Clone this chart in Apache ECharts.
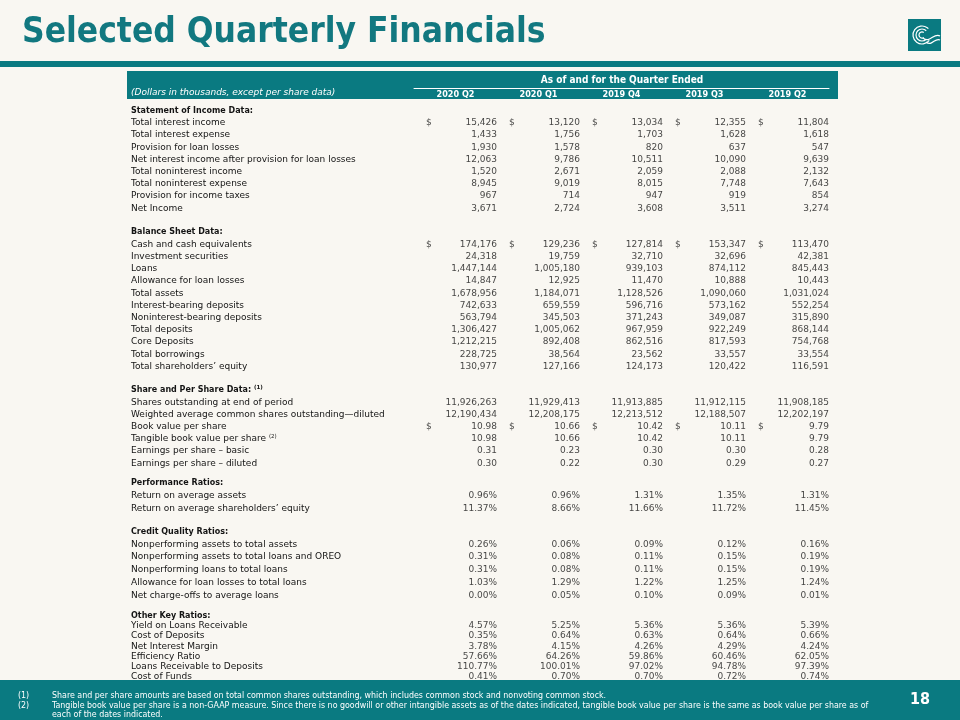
<!DOCTYPE html>
<html>
<head>
<meta charset="utf-8">
<title>Selected Quarterly Financials</title>
<script src="https://cdn.jsdelivr.net/npm/echarts@6/dist/echarts.min.js"></script>
<style>
  html, body { margin: 0; padding: 0; background: #f9f7f2; }
  #chart { width: 960px; height: 720px; }
</style>
</head>
<body>
<div id="chart"></div>
<script>
// column headers
const quarters = ['2020 Q2', '2020 Q1', '2019 Q4', '2019 Q3', '2019 Q2'];

// Statement of Income Data (dollars in thousands)
const incomeLabels = [
  'Total interest income',
  'Total interest expense',
  'Provision for loan losses',
  'Net interest income after provision for loan losses',
  'Total noninterest income',
  'Total noninterest expense',
  'Provision for income taxes',
  'Net Income'
];
const incomeValues = [
  [15426, 13120, 13034, 12355, 11804],
  [1433, 1756, 1703, 1628, 1618],
  [1930, 1578, 820, 637, 547],
  [12063, 9786, 10511, 10090, 9639],
  [1520, 2671, 2059, 2088, 2132],
  [8945, 9019, 8015, 7748, 7643],
  [967, 714, 947, 919, 854],
  [3671, 2724, 3608, 3511, 3274]
];

// Balance Sheet Data (dollars in thousands)
const balanceLabels = [
  'Cash and cash equivalents',
  'Investment securities',
  'Loans',
  'Allowance for loan losses',
  'Total assets',
  'Interest-bearing deposits',
  'Noninterest-bearing deposits',
  'Total deposits',
  'Core Deposits',
  'Total borrowings',
  'Total shareholders\u2019 equity'
];
const balanceValues = [
  [174176, 129236, 127814, 153347, 113470],
  [24318, 19759, 32710, 32696, 42381],
  [1447144, 1005180, 939103, 874112, 845443],
  [14847, 12925, 11470, 10888, 10443],
  [1678956, 1184071, 1128526, 1090060, 1031024],
  [742633, 659559, 596716, 573162, 552254],
  [563794, 345503, 371243, 349087, 315890],
  [1306427, 1005062, 967959, 922249, 868144],
  [1212215, 892408, 862516, 817593, 754768],
  [228725, 38564, 23562, 33557, 33554],
  [130977, 127166, 124173, 120422, 116591]
];

// Share and Per Share Data
const shareLabels = [
  'Shares outstanding at end of period',
  'Weighted average common shares outstanding\u2014diluted',
  'Book value per share',
  'Tangible book value per share',
  'Earnings per share \u2013 basic',
  'Earnings per share \u2013 diluted'
];
const shareValues = [
  [11926263, 11929413, 11913885, 11912115, 11908185],
  [12190434, 12208175, 12213512, 12188507, 12202197],
  [10.98, 10.66, 10.42, 10.11, 9.79],
  [10.98, 10.66, 10.42, 10.11, 9.79],
  [0.31, 0.23, 0.30, 0.30, 0.28],
  [0.30, 0.22, 0.30, 0.29, 0.27]
];

// Performance Ratios (%)
const perfLabels = ['Return on average assets', 'Return on average shareholders\u2019 equity'];
const perfValues = [
  [0.96, 0.96, 1.31, 1.35, 1.31],
  [11.37, 8.66, 11.66, 11.72, 11.45]
];

// Credit Quality Ratios (%)
const creditLabels = [
  'Nonperforming assets to total assets',
  'Nonperforming assets to total loans and OREO',
  'Nonperforming loans to total loans',
  'Allowance for loan losses to total loans',
  'Net charge-offs to average loans'
];
const creditValues = [
  [0.26, 0.06, 0.09, 0.12, 0.16],
  [0.31, 0.08, 0.11, 0.15, 0.19],
  [0.31, 0.08, 0.11, 0.15, 0.19],
  [1.03, 1.29, 1.22, 1.25, 1.24],
  [0.00, 0.05, 0.10, 0.09, 0.01]
];

// Other Key Ratios (%)
const otherLabels = [
  'Yield on Loans Receivable',
  'Cost of Deposits',
  'Net Interest Margin',
  'Efficiency Ratio',
  'Loans Receivable to Deposits',
  'Cost of Funds'
];
const otherValues = [
  [4.57, 5.25, 5.36, 5.36, 5.39],
  [0.35, 0.64, 0.63, 0.64, 0.66],
  [3.78, 4.15, 4.26, 4.29, 4.24],
  [57.66, 64.26, 59.86, 60.46, 62.05],
  [110.77, 100.01, 97.02, 94.78, 97.39],
  [0.41, 0.70, 0.70, 0.72, 0.74]
];

// rows that get a "$" in front of the numbers
const dollarRows = ['Total interest income', 'Cash and cash equivalents', 'Book value per share'];
// footnote markers
const labelNotes = { 'Share and Per Share Data:': '(1)', 'Tangible book value per share': '(2)' };

const footnotes = [
  ['(1)', 'Share and per share amounts are based on total common shares outstanding, which includes common stock and nonvoting common stock.'],
  ['(2)', 'Tangible book value per share is a non-GAAP measure. Since there is no goodwill or other intangible assets as of the dates indicated, tangible book value per share is the same as book value per share as of'],
  ['', 'each of the dates indicated.']
];

// number formats
const fmtInt = (v) => v.toLocaleString('en-US');
const fmtDec = (v) => v.toFixed(2);
const fmtPct = (v) => v.toFixed(2) + '%';

const TEAL = '#0a7a81';
const TEXT = '#141414';
const COL_LEFT = 414;
const COL_W = 83;
const LABEL_X = 131;

// sections: where the heading row sits and the row pitch
const sections = [
  { title: 'Statement of Income Data:', labels: incomeLabels, values: incomeValues, fmt: () => fmtInt, y0: 110.7, step: 12.2 },
  { title: 'Balance Sheet Data:', labels: balanceLabels, values: balanceValues, fmt: () => fmtInt, y0: 232.3, step: 12.2 },
  { title: 'Share and Per Share Data:', labels: shareLabels, values: shareValues, fmt: (r) => (r < 2 ? fmtInt : fmtDec), y0: 390, step: 12.2 },
  { title: 'Performance Ratios:', labels: perfLabels, values: perfValues, fmt: () => fmtPct, y0: 483.3, step: 12.5 },
  { title: 'Credit Quality Ratios:', labels: creditLabels, values: creditValues, fmt: () => fmtPct, y0: 531.7, step: 12.7 },
  { title: 'Other Key Ratios:', labels: otherLabels, values: otherValues, fmt: () => fmtPct, y0: 615.7, step: 10.2 }
];

// grid 0: column headings inside the teal header band
const grids = [{ left: COL_LEFT, top: 80, width: COL_W * 5, height: 8 }];
const xAxes = [{
  gridIndex: 0,
  type: 'category',
  data: quarters,
  axisLine: { lineStyle: { color: '#ffffff', width: 1 } },
  axisTick: { show: false },
  axisLabel: { color: '#ffffff', fontWeight: 'bold', fontSize: 9, fontFamily: 'DejaVu Sans Condensed', margin: 2 }
}];
const yAxes = [{ gridIndex: 0, type: 'category', data: [''], show: false }];
const series = [];

sections.forEach((s, k) => {
  const gi = k + 1;
  const n = s.labels.length + 1;
  grids.push({ left: COL_LEFT, width: COL_W * 5, top: s.y0 - s.step / 2, height: n * s.step });
  xAxes.push({ gridIndex: gi, type: 'category', data: quarters, show: false });
  yAxes.push({
    gridIndex: gi,
    type: 'category',
    inverse: true,
    data: [{ value: s.title, textStyle: { fontWeight: 'bold', fontSize: 8, align: 'left' } }].concat(s.labels),
    axisLine: { show: false },
    axisTick: { show: false },
    splitLine: { show: false },
    axisLabel: {
      interval: 0,
      align: 'left',
      margin: COL_LEFT - LABEL_X,
      color: TEXT,
      fontSize: 9,
      fontFamily: 'DejaVu Sans',
      formatter: (v) => (labelNotes[v] ? v + ' {sup|' + labelNotes[v] + '}' : v),
      rich: {
        sup: { fontSize: 5.5, fontFamily: 'DejaVu Sans', color: TEXT, padding: [0, 0, 5, 0] }
      }
    }
  });

  const pts = [];
  const dollars = [];
  s.values.forEach((row, r) => {
    row.forEach((v, c) => {
      pts.push([c, r + 1, v]);
      if (dollarRows.includes(s.labels[r])) dollars.push([c, r + 1]);
    });
  });

  series.push({
    type: 'scatter',
    xAxisIndex: gi,
    yAxisIndex: gi,
    data: pts,
    symbolSize: 1,
    silent: true,
    itemStyle: { color: 'rgba(0,0,0,0)' },
    label: {
      show: true,
      position: 'inside',
      align: 'right',
      offset: [COL_W / 2, 0],
      color: TEXT,
      fontSize: 9,
      fontFamily: 'DejaVu Sans',
      formatter: (p) => s.fmt(p.value[1] - 1)(p.value[2])
    }
  });
  if (dollars.length) {
    series.push({
      type: 'scatter',
      xAxisIndex: gi,
      yAxisIndex: gi,
      data: dollars,
      symbolSize: 1,
      silent: true,
      itemStyle: { color: 'rgba(0,0,0,0)' },
      label: {
        show: true,
        position: 'inside',
        align: 'left',
        offset: [-COL_W / 2 + 12, 0],
        color: TEXT,
        fontSize: 9,
        fontFamily: 'DejaVu Sans',
        formatter: '$'
      }
    });
  }
});

// decoration: title, bars, logo, header band, footer
const graphic = [
  { type: 'text', x: 22, y: 33, style: { text: 'Selected Quarterly Financials', fill: '#127880', font: 'bold 35px "DejaVu Sans Condensed"', align: 'left', verticalAlign: 'middle' } },
  { type: 'rect', shape: { x: 0, y: 61, width: 960, height: 6 }, style: { fill: TEAL } },
  // logo
  { type: 'rect', shape: { x: 908, y: 19, width: 33, height: 32 }, style: { fill: TEAL } },
  { type: 'arc', shape: { cx: 922, cy: 35, r: 9, startAngle: Math.PI * 0.2, endAngle: Math.PI * 1.75 }, style: { stroke: '#fff', lineWidth: 1.2, fill: null } },
  { type: 'arc', shape: { cx: 922, cy: 35, r: 6, startAngle: Math.PI * 0.25, endAngle: Math.PI * 1.75 }, style: { stroke: '#fff', lineWidth: 1.2, fill: null } },
  { type: 'arc', shape: { cx: 922, cy: 35, r: 3, startAngle: Math.PI * 0.3, endAngle: Math.PI * 1.7 }, style: { stroke: '#fff', lineWidth: 1.2, fill: null } },
  { type: 'bezierCurve', shape: { x1: 923, y1: 38, cpx1: 930, cpy1: 44, cpx2: 934, cpy2: 32, x2: 940, y2: 36 }, style: { stroke: '#fff', lineWidth: 1.2, fill: null } },
  { type: 'bezierCurve', shape: { x1: 926, y1: 42, cpx1: 932, cpy1: 47, cpx2: 935, cpy2: 37, x2: 940, y2: 40 }, style: { stroke: '#fff', lineWidth: 1.2, fill: null } },
  // header band
  { type: 'rect', shape: { x: 127, y: 71, width: 711, height: 28 }, style: { fill: TEAL } },
  { type: 'text', x: 622, y: 80, style: { text: 'As of and for the Quarter Ended', fill: '#fff', font: 'bold 10px "DejaVu Sans Condensed"', align: 'center', verticalAlign: 'middle' } },
  { type: 'text', x: 131, y: 93, style: { text: '(Dollars in thousands, except per share data)', fill: '#fff', font: 'italic 9px "DejaVu Sans"', align: 'left', verticalAlign: 'middle' } },
  // footer band
  { type: 'rect', z: 100, shape: { x: 0, y: 680, width: 960, height: 40 }, style: { fill: TEAL } },
  { type: 'text', z: 101, x: 910, y: 700, style: { text: '18', fill: '#fff', font: 'bold 16px "DejaVu Sans Condensed"', align: 'left', verticalAlign: 'middle' } }
];
footnotes.forEach((f, i) => {
  const y = 696 + i * 9.5;
  if (f[0]) graphic.push({ type: 'text', z: 101, x: 18, y: y, style: { text: f[0], fill: '#fff', font: '8.8px "DejaVu Sans Condensed"', verticalAlign: 'middle' } });
  graphic.push({ type: 'text', z: 101, x: 52, y: y, style: { text: f[1], fill: '#fff', font: '8.8px "DejaVu Sans Condensed"', verticalAlign: 'middle' } });
});

const chart = echarts.init(document.getElementById('chart'));
chart.setOption({
  backgroundColor: '#f9f7f2',
  animation: false,
  grid: grids,
  xAxis: xAxes,
  yAxis: yAxes,
  series: series,
  graphic: graphic
});
</script>
</body>
</html>
